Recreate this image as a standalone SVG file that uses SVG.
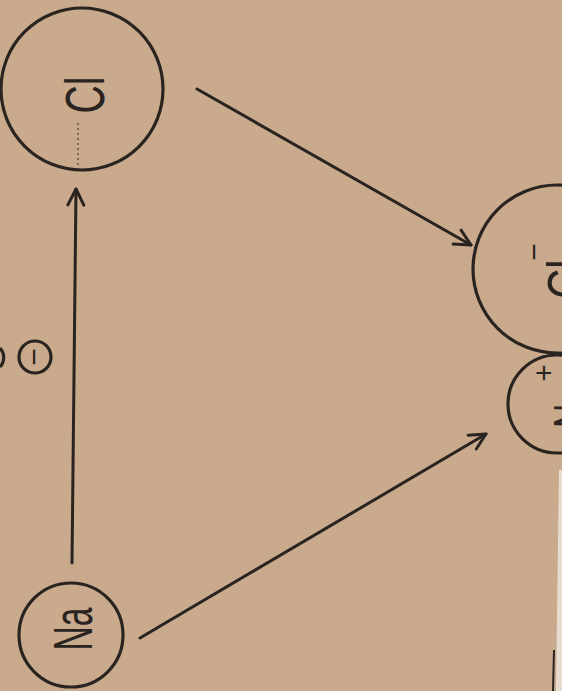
<svg xmlns="http://www.w3.org/2000/svg" width="562" height="691" viewBox="0 0 562 691">
  <defs>
    <marker id="arrow" markerUnits="userSpaceOnUse" markerWidth="24" markerHeight="24" viewBox="0 0 24 24" refX="22" refY="12" orient="auto">
      <path d="M6,4 L22,12 L6,20" fill="none" stroke="#2a2420" stroke-width="3" stroke-linecap="round" stroke-linejoin="round"/>
    </marker>
    <style>
      .ring { fill: none; stroke: #2a2420; stroke-width: 3.2; }
      .conn { fill: none; stroke: #2a2420; stroke-width: 3; stroke-linecap: round; marker-end: url(#arrow); }
      .lbl { font-family: "Liberation Sans", Arial, sans-serif; fill: #2a2420; }
    </style>
  </defs>
  <rect width="562" height="691" fill="#c9aa8d"/>
  <path d="M559,470 L562,470 L562,691 L556,691 Z" fill="#e6dcd0"/>
  <path d="M554,650 L553,691" stroke="#2a2420" stroke-width="2"/>

  <g id="node-cl">
    <circle class="ring" cx="82" cy="89" r="81"/>
    <line x1="78" y1="123" x2="78" y2="170" stroke="#2a2420" stroke-width="1" stroke-dasharray="2 3"/>
    <text class="lbl" font-size="56" transform="translate(104,95) rotate(-90) scale(0.7,1)" text-anchor="middle">Cl</text>
  </g>

  <g id="node-na">
    <circle class="ring" cx="71" cy="635" r="52"/>
    <text class="lbl" font-size="56" transform="translate(92,629) rotate(-90) scale(0.6,1)" text-anchor="middle">Na</text>
  </g>

  <g id="node-cl-ion">
    <circle class="ring" cx="557" cy="269" r="84"/>
    <text class="lbl" font-size="56" transform="translate(586,299) rotate(-90) scale(0.75,1)">Cl</text>
    <text class="lbl" font-size="30" transform="translate(544,252) rotate(-90)" text-anchor="middle">−</text>
  </g>

  <g id="node-na-ion">
    <circle class="ring" cx="557" cy="404" r="49"/>
    <text class="lbl" font-size="56" transform="translate(592,428) rotate(-90) scale(0.6,1)">Na</text>
    <text class="lbl" font-size="30" transform="translate(554,373) rotate(-90)" text-anchor="middle">+</text>
  </g>

  <g id="node-minus">
    <circle class="ring" cx="35" cy="357" r="16"/>
    <text class="lbl" font-size="30" transform="translate(44,357) rotate(-90)" text-anchor="middle">−</text>
  </g>

  <g id="node-edge">
    <path class="ring" d="M0,348 A14,14 0 0 1 0,367"/>
  </g>

  <g id="connectors">
    <line class="conn" x1="197" y1="89" x2="471" y2="245"/>
    <line class="conn" x1="140" y1="638" x2="486" y2="434"/>
    <line class="conn" x1="72" y1="563" x2="76" y2="189"/>
  </g>
</svg>
